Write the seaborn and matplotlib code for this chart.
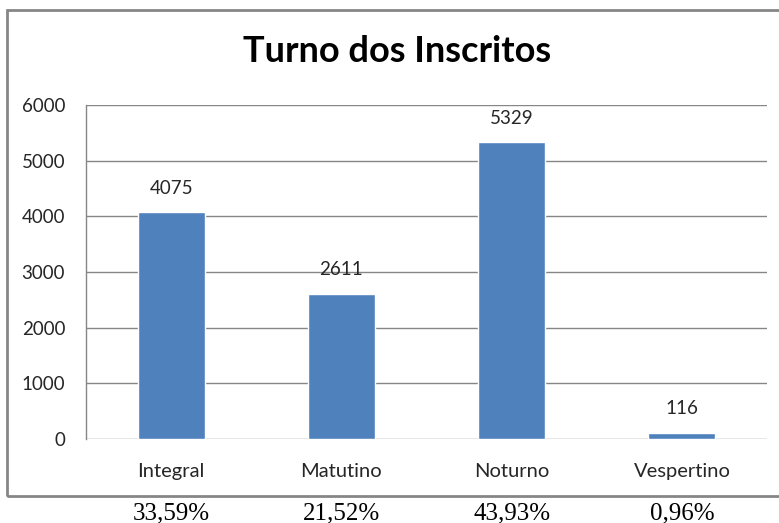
import matplotlib
matplotlib.use("Agg")
import matplotlib.pyplot as plt
import matplotlib.patches as mpatches
import seaborn as sns
import pandas as pd

turnos = ["Integral", "Matutino", "Noturno", "Vespertino"]
inscritos = [4075, 2611, 5329, 116]
percentuais = ["33,59%", "21,52%", "43,93%", "0,96%"]

sns.set_style("white")
plt.rcParams['font.family'] = ['Lato', 'DejaVu Sans']

df = pd.DataFrame({"turno": turnos, "inscritos": inscritos})

fig = plt.figure(figsize=(7.79, 5.23), dpi=100)
ax = fig.add_axes([86/779, 1 - 439/523, (767 - 86)/779, (439 - 105)/523])

sns.barplot(data=df, x="turno", y="inscritos", color="#4F81BD", width=0.395,
            saturation=1, ax=ax)

ax.set_ylim(0, 6000)
ax.set_yticks(range(0, 6001, 1000))
ax.yaxis.grid(True, color="#868686", linewidth=1)
ax.set_axisbelow(True)
ax.set_xlabel("")
ax.set_ylabel("")
for s in ["top", "right", "bottom"]:
    ax.spines[s].set_visible(False)
ax.spines["left"].set_color("#868686")
ax.spines["left"].set_linewidth(1)
ax.tick_params(axis="y", length=0, pad=15, labelsize=13.5, labelcolor="#262626")
ax.tick_params(axis="x", length=0, pad=17, labelsize=14.5, labelcolor="#262626")

for c in ax.containers:
    ax.bar_label(c, labels=[str(v) for v in inscritos], padding=11,
                 fontsize=13.5, color="#262626")

fig.text(0.51, 1 - 52/523, "Turno dos Inscritos", ha="center", va="center",
         fontsize=26, fontweight="bold", color="black")

# moldura do grafico
fig.patches.append(mpatches.Rectangle((7/779, 1 - 496/523), 1.05, (496 - 10)/523,
                                      transform=fig.transFigure, fill=False,
                                      edgecolor="#868686", linewidth=2))

# percentuais abaixo
for i, p in enumerate(percentuais):
    x_fig = fig.transFigure.inverted().transform(ax.transData.transform((i, 0)))[0]
    fig.text(x_fig, 1 - 513/523, p, ha="center", va="center", fontsize=18,
             family="Liberation Serif", color="black")

fig.savefig("out.png", dpi=100)
